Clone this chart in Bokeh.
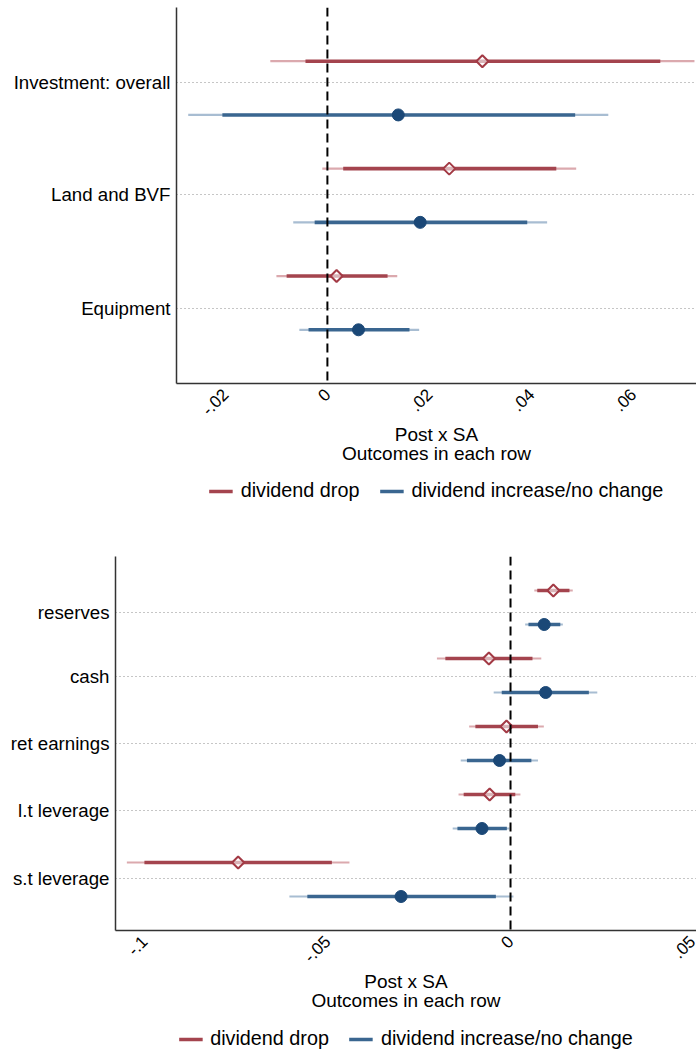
import math
from bokeh.plotting import figure
from bokeh.models import (ColumnDataSource, FixedTicker, Span, Legend, LegendItem,
                          Range1d, CustomJSTickFormatter)
from bokeh.layouts import column
from bokeh.embed import file_html
from bokeh.resources import INLINE

# ---------------- Panel 1: investment outcomes ----------------
inv_outcomes = ["Investment: overall", "Land and BVF", "Equipment"]
inv_drop_coef = [0.0304, 0.0239, 0.0018]
inv_drop_lo95 = [-0.0112, -0.0010, -0.0100]
inv_drop_hi95 = [0.0720, 0.0488, 0.0137]
inv_drop_lo90 = [-0.0043, 0.0031, -0.0080]
inv_drop_hi90 = [0.0653, 0.0449, 0.0118]
inv_inc_coef = [0.0139, 0.0182, 0.0061]
inv_inc_lo95 = [-0.0273, -0.0067, -0.0055]
inv_inc_hi95 = [0.0551, 0.0431, 0.0180]
inv_inc_lo90 = [-0.0206, -0.0025, -0.0037]
inv_inc_hi90 = [0.0486, 0.0392, 0.0161]
inv_xticks = [-0.02, 0.0, 0.02, 0.04, 0.06]
inv_xtick_labels = ["-.02", "0", ".02", ".04", ".06"]

# ---------------- Panel 2: financial outcomes ----------------
fin_outcomes = ["reserves", "cash", "ret earnings", "l.t leverage", "s.t leverage"]
fin_drop_coef = [0.0117, -0.0059, -0.0011, -0.0057, -0.0744]
fin_drop_lo95 = [0.0065, -0.0201, -0.0113, -0.0142, -0.1048]
fin_drop_hi95 = [0.0170, 0.0084, 0.0091, 0.0027, -0.0440]
fin_drop_lo90 = [0.0073, -0.0178, -0.0096, -0.0128, -0.1000]
fin_drop_hi90 = [0.0161, 0.0060, 0.0075, 0.0013, -0.0488]
fin_inc_coef = [0.0092, 0.0096, -0.0030, -0.0078, -0.0299]
fin_inc_lo95 = [0.0040, -0.0046, -0.0136, -0.0158, -0.0604]
fin_inc_hi95 = [0.0143, 0.0237, 0.0075, -0.0003, 0.0008]
fin_inc_lo90 = [0.0049, -0.0024, -0.0119, -0.0145, -0.0555]
fin_inc_hi90 = [0.0136, 0.0214, 0.0057, -0.0010, -0.0040]
fin_xticks = [-0.10, -0.05, 0.0, 0.05]
fin_xtick_labels = ["-.1", "-.05", "0", ".05"]

series_labels = ["dividend drop", "dividend increase/no change"]

FONT = "Liberation Sans"
RED = "#a4444e"
RED_LIGHT = "#dba9ae"
RED_MARK = "#a33a45"
BLUE = "#3a6690"
BLUE_LIGHT = "#a8bdd2"
BLUE_MARK = "#1b4877"

JS_FMT = """
const i = tvals.findIndex(t => Math.abs(t - tick) < 1e-9);
return i >= 0 ? tlabels[i] : "";
"""


def make_panel(outcomes, drop, inc, xticks, xlabels, xr, label_pos, frame_w, frame_h,
               border_left, border_top):
    n = len(outcomes)
    y_drop = [2 * i + 1 for i in range(n)]
    y_inc = [2 * i + 2 for i in range(n)]
    p = figure(frame_width=frame_w, frame_height=frame_h, output_backend="svg",
               toolbar_location=None,
               x_range=Range1d(*xr), y_range=Range1d(2 * n + 1, 0),
               min_border_left=border_left, min_border_right=0, min_border_top=border_top,
               min_border_bottom=0)
    p.outline_line_color = None
    p.background_fill_color = "white"
    p.border_fill_color = "white"
    p.xgrid.visible = False

    # zero reference line
    p.add_layout(Span(location=0, dimension="height", line_color="black",
                      line_width=2, line_dash="9 5"))

    sources = {}
    for (coef, lo95, hi95, lo90, hi90), ys, col, light, mcol, key in [
        (drop, y_drop, RED, RED_LIGHT, RED_MARK, "drop"),
        (inc, y_inc, BLUE, BLUE_LIGHT, BLUE_MARK, "inc"),
    ]:
        src = ColumnDataSource(dict(y=ys, b=coef, lo95=lo95, hi95=hi95, lo90=lo90, hi90=hi90))
        sources[key] = src
        p.segment(x0="lo95", x1="hi95", y0="y", y1="y", source=src,
                  line_color=light, line_width=2.2)
        p.segment(x0="lo90", x1="hi90", y0="y", y1="y", source=src,
                  line_color=col, line_width=3.6)
        if key == "drop":
            p.scatter(x="b", y="y", source=src, marker="square", angle=math.pi / 4,
                      size=8.5, line_color=mcol, line_width=2, fill_color="white",
                      fill_alpha=0.6)
        else:
            p.scatter(x="b", y="y", source=src, marker="circle", size=12,
                      line_color=mcol, fill_color=mcol)

    # y axis
    p.yaxis.ticker = FixedTicker(ticks=label_pos)
    p.yaxis.formatter = CustomJSTickFormatter(args=dict(tvals=label_pos, tlabels=outcomes),
                                              code=JS_FMT)
    p.yaxis.major_tick_line_color = None
    p.yaxis.minor_tick_line_color = None
    p.yaxis.major_tick_out = 0
    p.yaxis.minor_tick_out = 0
    p.yaxis.major_label_standoff = 6
    p.yaxis.major_label_text_font = FONT
    p.yaxis.major_label_text_font_size = "18.7px"
    p.yaxis.major_label_text_color = "black"
    p.yaxis.axis_line_color = "#333333"
    p.yaxis.axis_line_width = 1.5
    p.ygrid.ticker = FixedTicker(ticks=label_pos)
    p.ygrid.grid_line_color = "#8c8c8c"
    p.ygrid.grid_line_dash = "1 3"
    p.ygrid.grid_line_width = 1

    # x axis
    p.xaxis.ticker = FixedTicker(ticks=xticks)
    p.xaxis.formatter = CustomJSTickFormatter(args=dict(tvals=xticks, tlabels=xlabels),
                                              code=JS_FMT)
    p.xaxis.major_tick_line_color = None
    p.xaxis.minor_tick_line_color = None
    p.xaxis.major_label_orientation = math.pi / 4
    p.xaxis.major_label_standoff = 2
    p.xaxis.major_label_text_font = FONT
    p.xaxis.major_label_text_font_size = "17px"
    p.xaxis.major_label_text_color = "black"
    p.xaxis.axis_line_color = "#333333"
    p.xaxis.axis_line_width = 1.5
    p.xaxis.axis_label = "Post x SA\nOutcomes in each row"
    p.xaxis.axis_label_text_font = FONT
    p.xaxis.axis_label_text_font_size = "19px"
    p.xaxis.axis_label_text_font_style = "normal"
    p.xaxis.axis_label_text_color = "black"
    p.xaxis.axis_label_text_line_height = 0.9
    p.xaxis.axis_label_standoff = 0
    return p, sources


def make_legend(sources, frame_w, frame_h, border_left, top_gap):
    # legend strip: the series glyphs share the panel data but lie outside this strip's range
    lg = figure(frame_width=frame_w, frame_height=frame_h, output_backend="svg",
                toolbar_location=None, x_axis_type=None, y_axis_type=None,
                x_range=Range1d(0, 1), y_range=Range1d(100, 101),
                min_border_left=border_left, min_border_right=0, min_border_top=0,
                min_border_bottom=0)
    lg.outline_line_color = None
    lg.grid.visible = False
    r_drop = lg.segment(x0="lo90", x1="hi90", y0="y", y1="y", source=sources["drop"],
                        line_color=RED, line_width=3.6)
    r_inc = lg.segment(x0="lo90", x1="hi90", y0="y", y1="y", source=sources["inc"],
                       line_color=BLUE, line_width=3.6)
    legend = Legend(items=[LegendItem(label=series_labels[0], renderers=[r_drop]),
                           LegendItem(label=series_labels[1], renderers=[r_inc])],
                    orientation="horizontal", location="top",
                    label_text_font=FONT, label_text_font_size="19.8px",
                    label_text_color="black", glyph_width=24, glyph_height=20,
                    label_height=20, label_standoff=8, spacing=20,
                    border_line_color=None, background_fill_alpha=0,
                    padding=2, margin=top_gap)
    lg.add_layout(legend)
    return lg


p1, s1 = make_panel(inv_outcomes,
                    (inv_drop_coef, inv_drop_lo95, inv_drop_hi95, inv_drop_lo90, inv_drop_hi90),
                    (inv_inc_coef, inv_inc_lo95, inv_inc_hi95, inv_inc_lo90, inv_inc_hi90),
                    inv_xticks, inv_xtick_labels, (-0.0296, 0.0724), [1.39, 3.49, 5.6],
                    frame_w=520, frame_h=376, border_left=176, border_top=7)
leg1 = make_legend(s1, 520, 65, 176, 13)

p2, s2 = make_panel(fin_outcomes,
                    (fin_drop_coef, fin_drop_lo95, fin_drop_hi95, fin_drop_lo90, fin_drop_hi90),
                    (fin_inc_coef, fin_inc_lo95, fin_inc_hi95, fin_inc_lo90, fin_inc_hi90),
                    fin_xticks, fin_xtick_labels, (-0.1079, 0.0508), [1.66, 3.53, 5.49, 7.48, 9.47],
                    frame_w=581, frame_h=374, border_left=115, border_top=25)
leg2 = make_legend(s2, 581, 40, 115, 14)

top = column(p1, leg1, spacing=0)
bottom = column(p2, leg2, spacing=0)
open("out.html", "w").write(file_html([top, bottom], INLINE))
